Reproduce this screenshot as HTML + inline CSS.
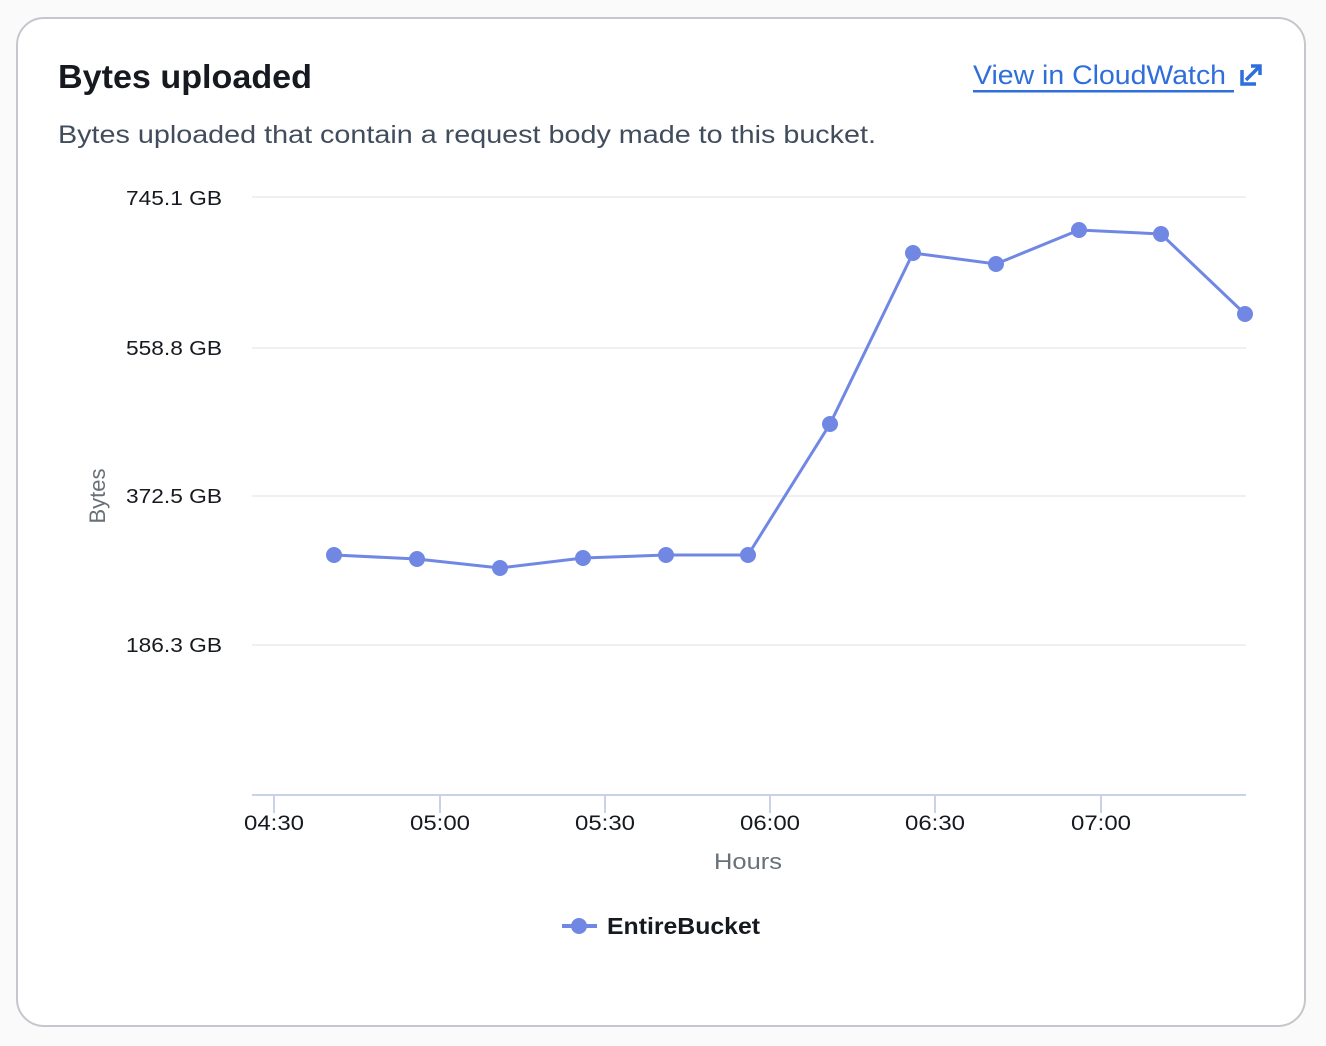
<!DOCTYPE html>
<html><head><meta charset="utf-8"><style>
html,body{margin:0;padding:0;background:#fafafa;}
body{width:1326px;height:1046px;position:relative;overflow:hidden;font-family:"Liberation Sans","DejaVu Sans",sans-serif;}
.card{position:absolute;left:16px;top:17px;width:1290px;height:1010px;border:2px solid #c6c6cd;border-radius:28px;background:#fff;box-sizing:border-box;}
</style></head><body>
<div class="card"></div>
<svg width="1326" height="1046" style="position:absolute;left:0;top:0" font-family="Liberation Sans, DejaVu Sans, sans-serif">
<text x="58" y="88" font-size="33" font-weight="bold" fill="#16191f" textLength="254" lengthAdjust="spacingAndGlyphs">Bytes uploaded</text>
<text x="58" y="143" font-size="25" fill="#414d5c" textLength="818" lengthAdjust="spacingAndGlyphs">Bytes uploaded that contain a request body made to this bucket.</text>
<text x="973" y="84" font-size="27" fill="#2f6fdc" textLength="253" lengthAdjust="spacingAndGlyphs">View in CloudWatch</text>
<rect x="973" y="90" width="261" height="2.5" fill="#2f6fdc"/>
<g stroke="#2f6fdc" stroke-width="3.5" fill="none">
<path d="M1242 70 V84 H1256"/><path d="M1246 80 L1259 67"/><path d="M1251 66 H1260 V75"/>
</g>
<g stroke="#e9ebed" stroke-width="1.5">
<line x1="252" y1="197" x2="1246" y2="197"/><line x1="252" y1="348" x2="1246" y2="348"/>
<line x1="252" y1="496" x2="1246" y2="496"/><line x1="252" y1="645" x2="1246" y2="645"/>
</g>
<g stroke="#c8d3e8" stroke-width="2">
<line x1="252" y1="795" x2="1246" y2="795"/>
<line x1="274" y1="795" x2="274" y2="813"/><line x1="440" y1="795" x2="440" y2="813"/>
<line x1="605" y1="795" x2="605" y2="813"/><line x1="770" y1="795" x2="770" y2="813"/>
<line x1="935" y1="795" x2="935" y2="813"/><line x1="1101" y1="795" x2="1101" y2="813"/>
</g>
<g font-size="20" fill="#16191f" text-anchor="end" lengthAdjust="spacingAndGlyphs">
<text x="222" y="205" textLength="96" lengthAdjust="spacingAndGlyphs">745.1 GB</text><text x="222" y="355" textLength="96" lengthAdjust="spacingAndGlyphs">558.8 GB</text>
<text x="222" y="503" textLength="96" lengthAdjust="spacingAndGlyphs">372.5 GB</text><text x="222" y="652" textLength="96" lengthAdjust="spacingAndGlyphs">186.3 GB</text>
</g>
<g font-size="21" fill="#16191f" text-anchor="middle">
<text x="274" y="830" textLength="60" lengthAdjust="spacingAndGlyphs">04:30</text><text x="440" y="830" textLength="60" lengthAdjust="spacingAndGlyphs">05:00</text><text x="605" y="830" textLength="60" lengthAdjust="spacingAndGlyphs">05:30</text>
<text x="770" y="830" textLength="60" lengthAdjust="spacingAndGlyphs">06:00</text><text x="935" y="830" textLength="60" lengthAdjust="spacingAndGlyphs">06:30</text><text x="1101" y="830" textLength="60" lengthAdjust="spacingAndGlyphs">07:00</text>
</g>
<text x="748" y="869" font-size="22" fill="#687078" text-anchor="middle" textLength="68" lengthAdjust="spacingAndGlyphs">Hours</text>
<text transform="translate(105,496) rotate(-90)" font-size="22" fill="#687078" text-anchor="middle">Bytes</text>
<polyline fill="none" stroke="#7088e4" stroke-width="3" points="334,555 417,559 500,568 583,558 666,555 748,555 830,424 913,253 996,264 1079,230 1161,234 1245,314"/>
<g fill="#7088e4">
<circle cx="334" cy="555" r="8"/><circle cx="417" cy="559" r="8"/><circle cx="500" cy="568" r="8"/>
<circle cx="583" cy="558" r="8"/><circle cx="666" cy="555" r="8"/><circle cx="748" cy="555" r="8"/>
<circle cx="830" cy="424" r="8"/><circle cx="913" cy="253" r="8"/><circle cx="996" cy="264" r="8"/>
<circle cx="1079" cy="230" r="8"/><circle cx="1161" cy="234" r="8"/><circle cx="1245" cy="314" r="8"/>
</g>
<line x1="562" y1="926" x2="597" y2="926" stroke="#7088e4" stroke-width="4"/>
<circle cx="579" cy="926" r="8" fill="#7088e4"/>
<text x="607" y="934" font-size="23" font-weight="bold" fill="#16191f" textLength="153" lengthAdjust="spacingAndGlyphs">EntireBucket</text>
</svg>
</body></html>
